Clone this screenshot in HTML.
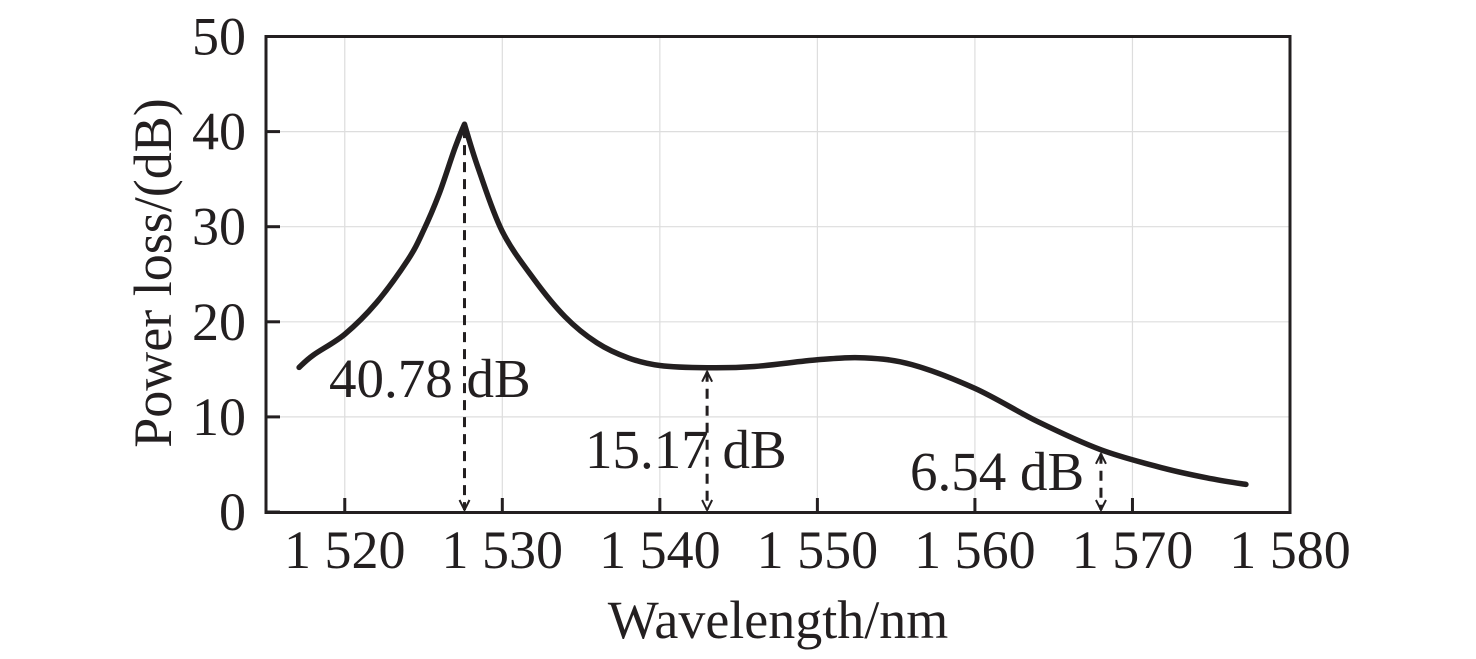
<!DOCTYPE html>
<html><head><meta charset="utf-8"><style>
body{margin:0;background:#fff;}
svg{display:block;font-family:"Liberation Serif",serif;}
</style></head><body>
<svg id="chart" width="1476" height="659" viewBox="0 0 1476 659" xmlns="http://www.w3.org/2000/svg">
<g id="grid"></g>
<g id="ticks"></g>
<path id="curve" fill="none" stroke="#231f20" stroke-width="5.5" stroke-linejoin="round" stroke-linecap="round"/>
<g id="annots"></g>
<rect x="266" y="36.5" width="1024" height="476" fill="none" stroke="#231f20" stroke-width="3"/>
<text x="778" y="638" font-size="54" text-anchor="middle" fill="#231f20">Wavelength/nm</text>
<text transform="translate(171,273) rotate(-90)" font-size="54" text-anchor="middle" fill="#231f20">Power loss/(dB)</text>
</svg>
<script>
const wavelengths=[1517.1,1518,1520,1522,1524,1525,1526,1527,1527.6,1528.5,1530,1532,1534,1536,1538,1540,1543,1546,1550,1553,1556,1560,1564,1568,1572,1575,1577.2];
const losses=[15.2,16.5,18.7,22,26.5,29.6,33.5,38.3,40.78,36,29.5,24.5,20.5,17.8,16.2,15.4,15.17,15.3,16.0,16.2,15.5,13,9.5,6.54,4.6,3.5,2.9];
const xTicks=[1520,1530,1540,1550,1560,1570,1580];
const xTickLabels=["1 520","1 530","1 540","1 550","1 560","1 570","1 580"];
const yTicks=[0,10,20,30,40,50];
const annotX=[1527.6,1543,1568];
const annotY=[40.78,15.17,6.54];
const annotLabels=["40.78 dB","15.17 dB","6.54 dB"];
const NS="http://www.w3.org/2000/svg";
const X0=266,X1=1290,Y0=512,Y1=36.5;
const xs=v=>X0+(v-1515)/(1580-1515)*(X1-X0);
const ys=v=>Y0-(v/50)*(Y0-Y1);
function mk(tag,attrs,parent){const e=document.createElementNS(NS,tag);for(const k in attrs)e.setAttribute(k,attrs[k]);parent.appendChild(e);return e;}
const grid=document.getElementById('grid'),ticks=document.getElementById('ticks'),ann=document.getElementById('annots');
xTicks.forEach((t,i)=>{
 const x=xs(t);
 const g=mk('line',{x1:x,x2:x,y1:Y1,y2:Y0,stroke:'#dddddd','stroke-width':1.2},grid);
 
 
 const tk=mk('line',{x1:x,x2:x,y1:Y0,y2:Y0-14,stroke:'#231f20','stroke-width':3},ticks);
 
 
 const tx=mk('text',{x:x,y:568,'font-size':54,'text-anchor':'middle',fill:'#231f20'},ticks);
 tx.textContent=xTickLabels[i];
 
 
});
yTicks.forEach(t=>{
 const y=ys(t);
 const g=mk('line',{x1:X0,x2:X1,y1:y,y2:y,stroke:'#dddddd','stroke-width':1.2},grid);
 
 
 const tk=mk('line',{x1:X0,x2:X0+14,y1:y,y2:y,stroke:'#231f20','stroke-width':3},ticks);
 
 
 const tx=mk('text',{x:246,y:y+18,'font-size':54,'text-anchor':'end',fill:'#231f20'},ticks);
 tx.textContent=String(t);
 
 
});
const P=wavelengths.map((w,i)=>[xs(w),ys(losses[i])]);
const peakIdx=losses.indexOf(Math.max(...losses));
let d='M'+P[0][0].toFixed(1)+','+P[0][1].toFixed(1);
for(let i=0;i<P.length-1;i++){
 const p0=P[Math.max(i-1,0)],p1=P[i],p2=P[i+1],p3=P[Math.min(i+2,P.length-1)];
 const k1=(i===peakIdx)?0:1/6,k2=(i+1===peakIdx)?0:1/6;
 const c1=[p1[0]+(p2[0]-p0[0])*k1,p1[1]+(p2[1]-p0[1])*k1];
 const c2=[p2[0]-(p3[0]-p1[0])*k2,p2[1]-(p3[1]-p1[1])*k2];
 d+=`C${c1[0].toFixed(1)},${c1[1].toFixed(1)} ${c2[0].toFixed(1)},${c2[1].toFixed(1)} ${p2[0].toFixed(1)},${p2[1].toFixed(1)}`;
}
document.getElementById('curve').setAttribute('d',d);
const labelPos=[[329,397],[585,468],[910,490]];
annotX.forEach((w,i)=>{
 const x=xs(w),yt=ys(annotY[i])+4,yb=Y0-2;
 const l=mk('line',{x1:x,x2:x,y1:yt,y2:yb,stroke:'#231f20','stroke-width':3,'stroke-dasharray':'10,7'},ann);
 
 
 const hb=mk('path',{d:`M${x-5},${yb-10}L${x},${yb}L${x+5},${yb-10}`,fill:'none',stroke:'#231f20','stroke-width':2},ann);
 
 
 if(i>0){
  const ht=mk('path',{d:`M${x-5},${yt+10}L${x},${yt}L${x+5},${yt+10}`,fill:'none',stroke:'#231f20','stroke-width':2},ann);
  
  
 }
 const t=mk('text',{x:labelPos[i][0],y:labelPos[i][1],'font-size':55,fill:'#231f20'},ann);
 t.textContent=annotLabels[i];
 
 
});
</script>
</body></html>
